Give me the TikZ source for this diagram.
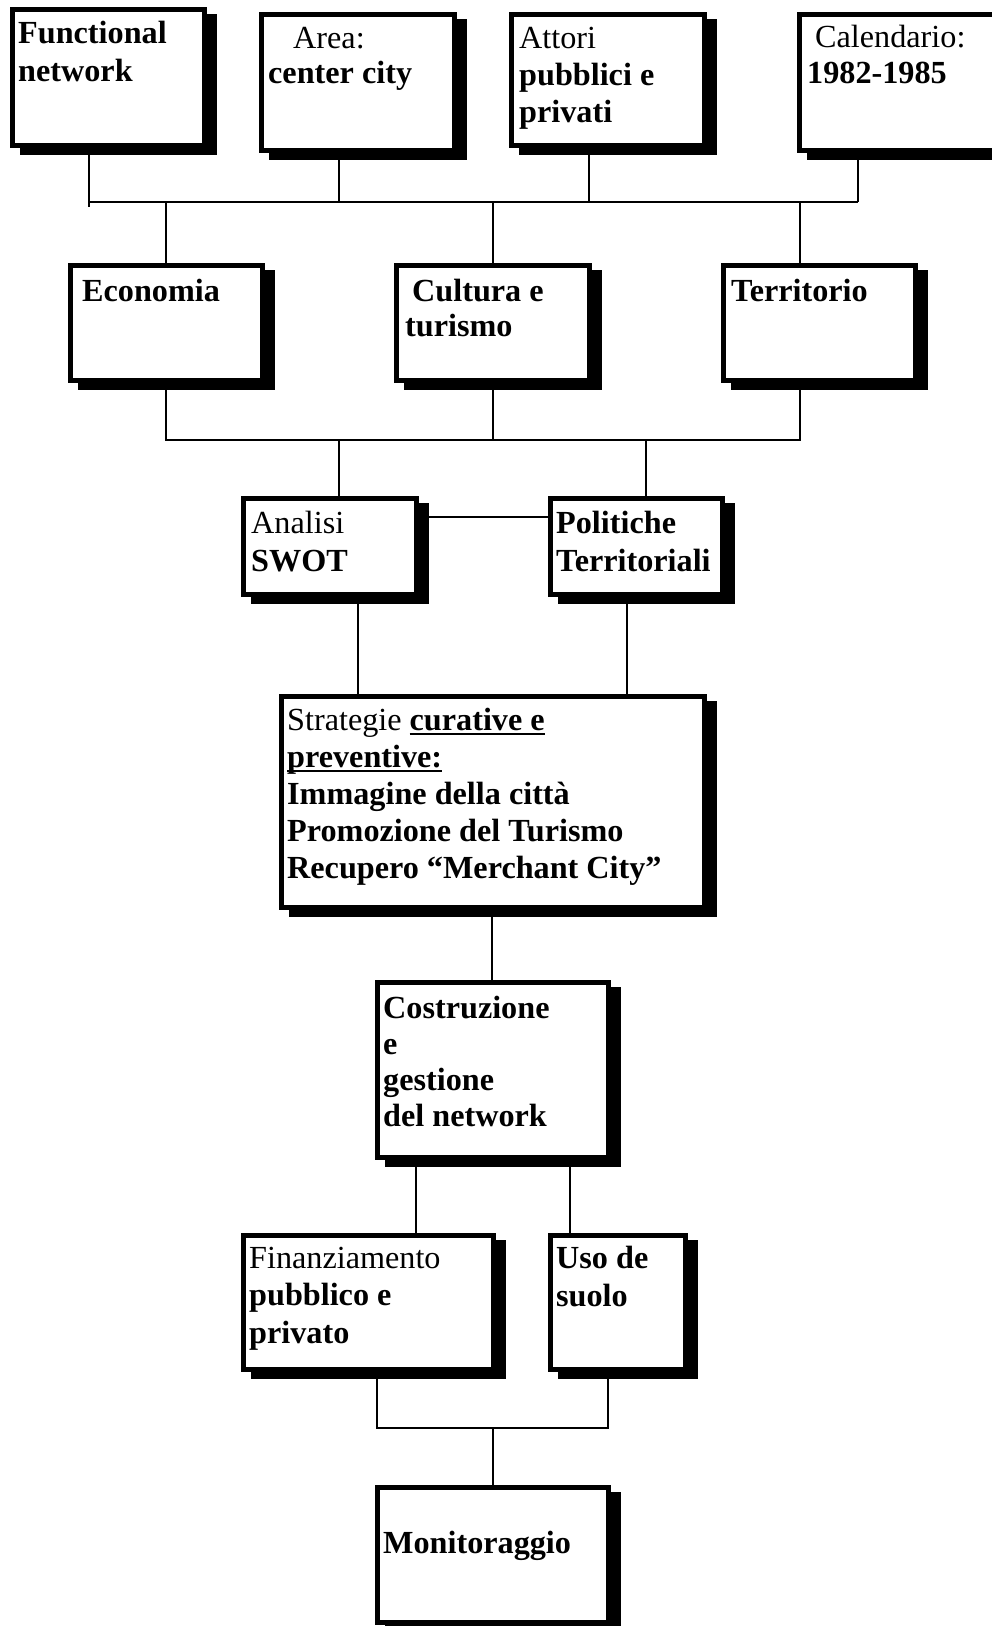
\documentclass[tikz,border=0pt]{standalone}
\usepackage{fontspec}
\setmainfont{Liberation Serif}
\usetikzlibrary{calc}

% underline set a little below the baseline, crossing descenders
\newcommand\myul[1]{\setbox0=\hbox{#1}\rlap{\rule[-5pt]{\wd0}{2pt}}\box0}
% framed box with a solid black drop shadow: name, x1, y1, x2, y2 (outer edges)
\newcommand\shbox[5]{%
  \fill[black] ({#2+10},{#3+7}) rectangle ({#4+10},{#5+7});
  \node[box, minimum width={#4-#2-5}, minimum height={#5-#3-5}] (#1) at ({(#2+#4)/2},{(#3+#5)/2}) {};}
% text block: name, x, first baseline, line spacing, lines
\newcommand\boxtext[5]{\node[txt, font=\fontsize{32.2}{#4}\selectfont] (#1) at (#2,{#3-0.7*#4}) {\strut #5};}

\begin{document}
\begin{tikzpicture}[x=1pt,y=-1pt,
  box/.style={rectangle, draw=black, line width=5pt, fill=white, inner sep=0pt},
  txt/.style={anchor=north west, inner sep=0pt, align=left},
  link/.style={draw=black, line width=1.6pt}]
\useasboundingbox (0,0) rectangle (992,1626);
\clip (0,0) rectangle (992,1626);

% ---- boxes ----
\shbox{fn}{10}{7}{207}{148}
\shbox{area}{259}{12}{457}{153}
\shbox{att}{509}{12}{707}{148}
\shbox{cal}{797}{12}{1002}{153}
\shbox{eco}{68}{263}{265}{383}
\shbox{cult}{394}{263}{592}{383}
\shbox{terr}{721}{263}{918}{383}
\shbox{swot}{241}{496}{419}{597}
\shbox{pol}{548}{496}{725}{597}
\shbox{strat}{279}{694}{707}{910}
\shbox{cost}{375}{980}{611}{1160}
\shbox{fin}{241}{1233}{496}{1372}
\shbox{uso}{548}{1233}{688}{1372}
\shbox{mon}{375}{1485}{611}{1625}

% ---- texts ----
\boxtext{t-fn}{18}{43}{38}{\bfseries Functional\\\bfseries network}
\boxtext{t-area}{268}{48}{35}{\hspace*{25pt}Area:\\\bfseries center city}
\boxtext{t-att}{519}{48}{37}{Attori\\\bfseries pubblici e\\\bfseries privati}
\boxtext{t-cal}{807}{47}{36}{\hspace*{8pt}Calendario:\\\bfseries 1982-1985}
\boxtext{t-eco}{82}{301}{35}{\bfseries Economia}
\boxtext{t-cult}{405}{301}{35}{\bfseries\hspace*{7pt}Cultura e\\\bfseries turismo}
\boxtext{t-terr}{731}{301}{35}{\bfseries Territorio}
\boxtext{t-swot}{251}{533}{38}{Analisi\\\bfseries SWOT}
\boxtext{t-pol}{556}{533}{38}{\bfseries Politiche\\\bfseries Territoriali}
\boxtext{t-strat}{287}{730}{37}{Strategie \myul{\bfseries curative e}\\\myul{\bfseries preventive:}\\\bfseries Immagine della città\\\bfseries Promozione del Turismo\\\bfseries Recupero “Merchant City”}
\boxtext{t-cost}{383}{1018}{36}{\bfseries Costruzione\\\bfseries e\\\bfseries gestione\\\bfseries del network}
\boxtext{t-fin}{249}{1268}{37.5}{Finanziamento\\\bfseries pubblico e\\\bfseries privato}
\boxtext{t-uso}{556}{1268}{38}{\bfseries Uso de\\\bfseries suolo}
\boxtext{t-mon}{383}{1553}{36}{\bfseries Monitoraggio}

% ---- junction points ----
\coordinate (j-fn) at (89,202);
\coordinate (fn-tail) at (89,207);
\coordinate (j-area) at (339,202);
\coordinate (j-att) at (589,202);
\coordinate (j-cal) at (858,202);
\coordinate (j-eco) at (166,202);
\coordinate (j-cult) at (493,202);
\coordinate (j-terr) at (800,202);
\coordinate (k-eco) at (166,440);
\coordinate (k-cult) at (493,440);
\coordinate (k-terr) at (800,440);
\coordinate (k-swot) at (339,440);
\coordinate (k-pol) at (646,440);
\coordinate (m) at (0,517);
\coordinate (c-swot) at (358,0);
\coordinate (c-pol) at (627,0);
\coordinate (c-mid) at (492,0);
\coordinate (c-fin) at (416,0);
\coordinate (c-uso) at (570,0);
\coordinate (n-fin) at (377,1428);
\coordinate (n-uso) at (608,1428);
\coordinate (n-mon) at (493,1428);

% ---- connectors ----
\draw[link] (fn.south -| j-fn) -- (fn-tail);
\draw[link] (j-fn) -- (j-cal);
\draw[link] (area.south -| j-area) -- (j-area);
\draw[link] (att.south -| j-att) -- (j-att);
\draw[link] (cal.south -| j-cal) -- (j-cal);
\draw[link] (j-eco) -- (eco.north -| j-eco);
\draw[link] (j-cult) -- (cult.north -| j-cult);
\draw[link] (j-terr) -- (terr.north -| j-terr);

\draw[link] (eco.south -| k-eco) -- (k-eco) -- (k-terr) -- (terr.south -| k-terr);
\draw[link] (cult.south -| k-cult) -- (k-cult);
\draw[link] (k-swot) -- (swot.north -| k-swot);
\draw[link] (k-pol) -- (pol.north -| k-pol);

\draw[link] (swot.east |- m) -- (pol.west |- m);
\draw[link] (swot.south -| c-swot) -- (strat.north -| c-swot);
\draw[link] (pol.south -| c-pol) -- (strat.north -| c-pol);
\draw[link] (strat.south -| c-mid) -- (cost.north -| c-mid);
\draw[link] (cost.south -| c-fin) -- (fin.north -| c-fin);
\draw[link] (cost.south -| c-uso) -- (uso.north -| c-uso);
\draw[link] (fin.south -| n-fin) -- (n-fin) -- (n-uso) -- (uso.south -| n-uso);
\draw[link] (n-mon) -- (mon.north -| n-mon);
\end{tikzpicture}
\end{document}
